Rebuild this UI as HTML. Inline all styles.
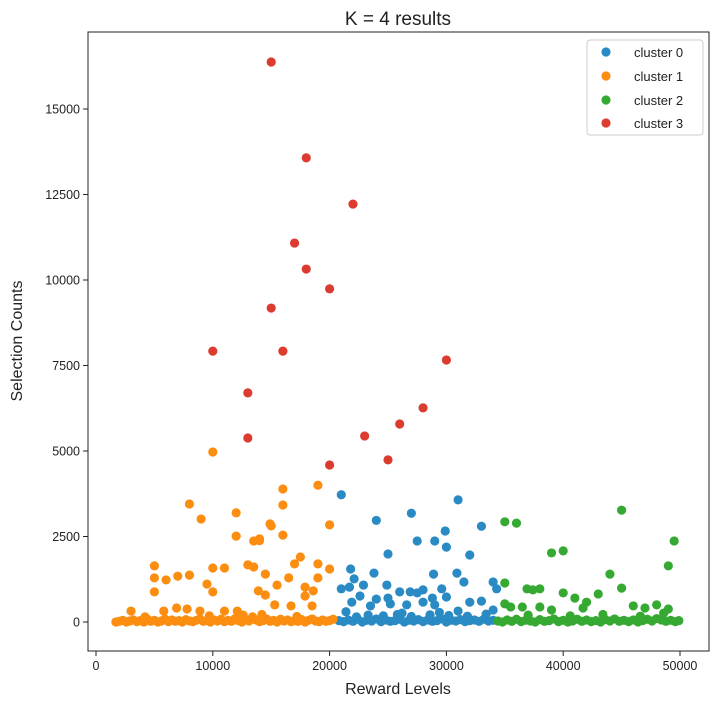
<!DOCTYPE html>
<html><head><meta charset="utf-8"><style>
body{margin:0;background:#fff;}
svg text{font-family:"Liberation Sans",sans-serif;fill:#222;}
</style></head><body>
<svg id="chart" width="717" height="707" xmlns="http://www.w3.org/2000/svg">
<text x="398" y="25" text-anchor="middle" font-size="19">K = 4 results</text>
<rect x="88" y="32" width="621" height="619" fill="none" stroke="#222" stroke-width="1"/>
<g id="xticks"></g>
<g id="yticks"></g>
<g id="points"></g>
<text x="398" y="694" text-anchor="middle" font-size="16">Reward Levels</text>
<text transform="translate(22,341) rotate(-90)" text-anchor="middle" font-size="16">Selection Counts</text>
<g>
<rect x="587" y="40" width="116" height="95" rx="3" fill="#fff" stroke="#ccc"/>
<g><circle cx="606" cy="52" r="4.6" fill="#2a8ac4"/><text x="634" y="57" font-size="13">cluster 0</text></g>
<g><circle cx="606" cy="76" r="4.6" fill="#fb8d10"/><text x="634" y="81" font-size="13">cluster 1</text></g>
<g><circle cx="606" cy="100" r="4.6" fill="#36a932"/><text x="634" y="105" font-size="13">cluster 2</text></g>
<g><circle cx="606" cy="123" r="4.6" fill="#dc3b30"/><text x="634" y="128" font-size="13">cluster 3</text></g>
</g>
</svg>
<script>
const xTicks=[0,10000,20000,30000,40000,50000];
const yTicks=[0,2500,5000,7500,10000,12500,15000];
const colors=["#2a8ac4","#fb8d10","#36a932","#dc3b30"];
const c0x=[21000,31000,27000,24000,33000,29900,27500,29000,30000,25000,32000,21800,23800,28900,30900,31500,34000,22100,22900,21000,21700,24900,26000,26900,28000,29600,34300,22600,24000,25000,27500,28800,30000,21900,25200,26600,28000,29000,32000,33000,23500,31000,34000,
20800,21200,21600,22000,22400,22800,23200,23600,24000,24400,24800,25200,25600,26000,26400,26800,27200,27600,28000,28400,28800,29200,29600,30000,30400,30800,31200,31600,32000,32400,32800,33200,33600,34000,22300,23300,24600,25800,27000,28600,30200,31800,33400,21400,26200,29400];
const c0y=[3720,3570,3180,2970,2800,2660,2370,2370,2190,1990,1960,1550,1430,1400,1430,1170,1170,1260,1080,970,1020,1080,880,880,940,970,970,760,670,700,850,700,730,580,530,500,580,500,580,610,470,320,350,
40,10,60,20,80,0,50,30,90,10,60,20,40,80,0,50,30,70,10,60,20,40,90,0,50,30,70,10,40,60,20,80,30,50,150,200,180,220,160,210,190,170,230,300,260,280];
const c1x=[10000,19000,16000,8000,16000,9000,12000,15000,20000,12000,14000,16000,5000,5000,5000,6000,7000,8000,10000,10000,9500,11000,13000,13500,13500,14000,14500,13900,14500,14900,15500,16500,17000,17500,17900,18600,17900,19000,19000,20000,15300,16700,18500,3000,5800,6900,7800,8900,11000,12100,
1700,2000,2300,2600,2900,3200,3500,3800,4100,4400,4700,5000,5300,5600,5900,6200,6500,6800,7100,7400,7700,8000,8300,8600,8900,9200,9500,9800,10100,10400,10700,11000,11300,11600,11900,12200,12500,12800,13100,13400,13700,14000,14300,14600,14900,15200,15500,15800,16100,16400,16700,17000,17300,17600,17900,18200,18500,18800,19100,19400,19700,20000,20300,4200,9700,12600,14200,17200];
const c1y=[4970,4000,3890,3450,3420,3010,3190,2810,2840,2510,2380,2540,1640,1290,880,1230,1340,1370,1580,880,1110,1580,1670,1610,2370,2430,1400,910,790,2870,1080,1290,1700,1900,1020,910,760,1700,1290,1550,500,470,470,320,320,410,380,320,320,320,
0,20,50,0,30,60,10,40,0,80,20,50,0,30,90,10,60,20,40,0,70,30,10,50,90,20,40,0,60,30,80,10,50,20,100,40,0,70,30,150,60,10,40,90,20,50,0,80,30,60,10,40,20,70,0,50,90,30,10,60,20,40,80,150,180,200,220,160];
const c2x=[35000,36000,45000,49500,39000,40000,49000,44000,35000,36900,38000,37400,40000,41000,43000,45000,42000,35000,46000,47000,48000,49000,35500,36500,38000,39000,41700,
34400,34800,35200,35600,36000,36400,36800,37200,37600,38000,38400,38800,39200,39600,40000,40400,40800,41200,41600,42000,42400,42800,43200,43600,44000,44400,44800,45200,45600,46000,46400,46800,47200,47600,48000,48400,48800,49200,49600,49900,37000,40600,43400,46600,48600];
const c2y=[2930,2890,3270,2370,2020,2080,1640,1400,1140,970,970,940,850,700,820,990,580,530,470,410,500,380,440,440,440,350,410,
30,0,60,20,80,10,50,30,0,70,20,40,90,10,50,0,30,80,20,60,10,40,0,70,30,90,20,50,10,60,0,40,80,30,100,60,20,50,10,40,200,180,220,170,260];
const c3x=[15000,18000,22000,17000,18000,20000,10000,15000,16000,30000,13000,28000,26000,23000,13000,25000,20000];
const c3y=[16375,13570,12220,11080,10320,9740,7920,9180,7920,7660,6700,6260,5790,5440,5380,4740,4590];
const X0=88,X1=709,Y0=32,Y1=651;
function sx(v){return 96+v*(584/50000);}
function sy(v){return 622-v*(85.5/2500);}
const NS="http://www.w3.org/2000/svg";
const xg=document.getElementById('xticks'),yg=document.getElementById('yticks'),pg=document.getElementById('points');
xTicks.forEach(t=>{
 const l=document.createElementNS(NS,'line');l.setAttribute('x1',sx(t));l.setAttribute('x2',sx(t));l.setAttribute('y1',Y1);l.setAttribute('y2',Y1+5);l.setAttribute('stroke','#222');
 
 
 xg.appendChild(l);
 const tx=document.createElementNS(NS,'text');tx.setAttribute('x',sx(t));tx.setAttribute('y',Y1+19);tx.setAttribute('text-anchor','middle');tx.setAttribute('font-size','12.5');tx.textContent=t;
 
 
 xg.appendChild(tx);
});
yTicks.forEach(t=>{
 const l=document.createElementNS(NS,'line');l.setAttribute('x1',X0-5);l.setAttribute('x2',X0);l.setAttribute('y1',sy(t));l.setAttribute('y2',sy(t));l.setAttribute('stroke','#222');
 
 
 yg.appendChild(l);
 const tx=document.createElementNS(NS,'text');tx.setAttribute('x',X0-8);tx.setAttribute('y',sy(t)+4.5);tx.setAttribute('text-anchor','end');tx.setAttribute('font-size','12.5');tx.textContent=t;
 
 
 yg.appendChild(tx);
});
[[c0x,c0y],[c1x,c1y],[c2x,c2y],[c3x,c3y]].forEach((s,ci)=>{
 s[0].forEach((xv,i)=>{
  const c=document.createElementNS(NS,'circle');c.setAttribute('cx',sx(xv));c.setAttribute('cy',sy(s[1][i]));c.setAttribute('r',4.6);c.setAttribute('fill',colors[ci]);
  
  
  pg.appendChild(c);
 });
});
</script>
</body></html>
